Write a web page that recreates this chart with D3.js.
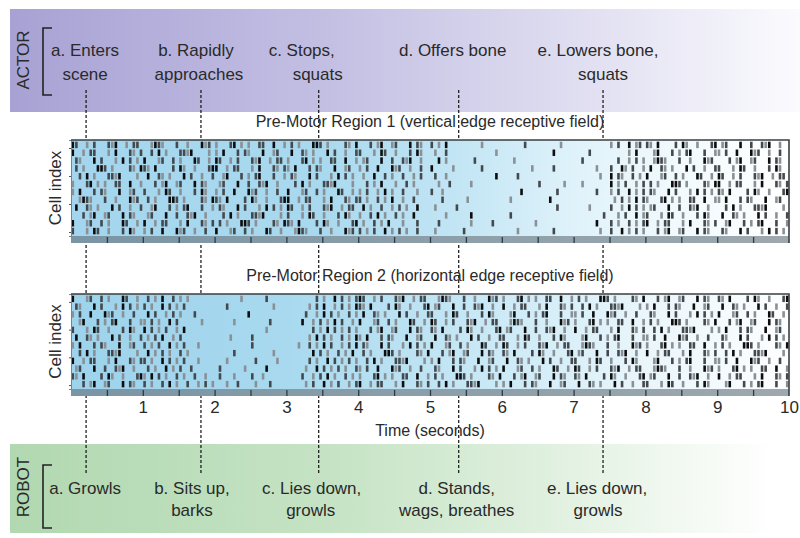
<!DOCTYPE html>
<html>
<head>
<meta charset="utf-8">
<script src="https://cdn.jsdelivr.net/npm/d3@7"></script>
<style>
  body { margin: 0; background: #fff; }
  text { font-family: "Liberation Sans", Arial, sans-serif; fill: #2a2a2a; }
</style>
</head>
<body>
<script>
// ---- data ----
var timeTicks = [1, 2, 3, 4, 5, 6, 7, 8, 9, 10];
var bandTicks = [0.5, 1, 1.5, 2, 2.5, 3, 3.5, 4, 4.5, 5, 5.5, 6, 6.5, 7, 7.5, 8, 8.5, 9, 9.5];
var eventTimes = [0.21, 1.81, 3.45, 5.40, 7.41];

var actorLine1 = ["a. Enters", "b. Rapidly", "c. Stops,", "d. Offers bone", "e. Lowers bone,"];
var actorLine2 = ["scene", "approaches", "squats", "", "squats"];
var robotLine1 = ["a. Growls", "b. Sits up,", "c. Lies down,", "d. Stands,", "e. Lies down,"];
var robotLine2 = ["", "barks", "growls", "wags, breathes", "growls"];

var panelTitles = ["Pre-Motor Region 1 (vertical edge receptive field)",
                   "Pre-Motor Region 2 (horizontal edge receptive field)"];

// spike rasters: one string per cell, one 20-char block per second
// '.' no spike, '1' faint, '2' grey, '3' black
var region1Spikes = [
  "32..1.2...213..1.22. ..1321...2..1...312. 1...23.1.1..22..3..1 .2.1...332.1....21.3 ...2.13..12...3.21.. 2.1.3.........1..... ......2.........1... ..........1.2..3.12. 21.3....2.31..1...23 .12...3..2..213..1..",
  "3..1.22...1.3...21.2 ..2.3.1...2213....1. 1.3...2.21...3..12.. .3..21.1...3.2..1..2 2...1.32..1...2.31.. .1..2.............1. ..............3..... ....2..........1.3.. ..13...2.1.23...2..1 1.2..3...312..1..2..",
  ".21...3.2...1.3.2.1. 3...12..2.1...32..1. 32..1.2...213..1.22. 1...23.1.1..22..3..1 .12...3..2..213..1.. ..3.1.......2....... ...1................ ..2.........2..1.2.1 ..1321...2..1...312. ...2.13..12...3.21..",
  ".2.1...332.1....21.3 21.3....2.31..1...23 3..1.22...1.3...21.2 1.3...2.21...3..12.. 1.2..3...312..1..2.. 3.....1.......2..... ........1.....2..... ......1...2..31.2..1 .3..21.1...3.2..1..2 2...1.32..1...2.31..",
  "..2.3.1...2213....1. .3..21.1...3.2..1..2 ..13...2.1.23...2..1 .21...3.2...1.3.2.1. .1..3..2.1..2..1.2.. .2..1.............3. ....2............... .......1..3.21..2.1. 3...12..2.1...32..1. 32..1.2...213..1.22.",
  "1...23.1.1..22..3..1 ...2.13..12...3.21.. .12...3..2..213..1.. ..2.3.1...2213....1. ..2.1.3...1..2.1.... ..1..2.....1........ ..........2......1.. ..1.......3.1.2..1.2 .2.1...332.1....21.3 3..1.22...1.3...21.2",
  "1.3...2.21...3..12.. 2...1.32..1...2.31.. 1.2..3...312..1..2.. 3...12..2.1...32..1. 1.2..1.3.1..2...1... 2..1................ .....3.........2.... ......2...1.2..3.1.2 .21...3.2...1.3.2.1. 21.3....2.31..1...23",
  "..1321...2..1...312. .2.1...332.1....21.3 21.3....2.31..1...23 3..1.22...1.3...21.2 2.1..2.1.3..1..2.... ...2......1......... ..1..........3...... ...........1.2.1.3.2 1...23.1.1..22..3..1 1.3...2.21...3..12..",
  ".3..21.1...3.2..1..2 ..13...2.1.23...2..1 .21...3.2...1.3.2.1. 32..1.2...213..1.22. .3.1..2..1.2.1..3... .1.....2............ ...............2.... ....1.....2..1.3.2.1 .12...3..2..213..1.. ..2.3.1...2213....1.",
  "...2.13..12...3.21.. .12...3..2..213..1.. ..2.3.1...2213....1. 2...1.32..1...2.31.. 1..2.3.1..2.1..3.... ....1......3........ ..2................. ........2...1.2..3.1 2...1.32..1...2.31.. .3..21.1...3.2..1..2",
  "3...12..2.1...32..1. 3..1.22...1.3...21.2 .2.1...332.1....21.3 21.3....2.31..1...23 .1..2.1.3...1...2... ..2........1.....2.. .........1.......... ......3...2.1..2.1.2 3..1.22...1.3...21.2 ..13...2.1.23...2..1",
  "2...1.32..1...2.31.. 1.2..3...312..1..2.. 3...12..2.1...32..1. ..1321...2..1...312. 2.1.2..3.1.2.1..2... .1.......2.......... ....1.........2..... .......1..2..3.1.2.1 ...2.13..12...3.21.. .21...3.2...1.3.2.1."
];

var region2Spikes = [
  "3...12..2.1...32..1. .2.1.3..2.1.1....... .......1......2..... ........2.1..3.2.1.2 32..1.2...213..1.22. ..1321...2..1...312. 1...23.1.1..22..3..1 .2.1...332.1....21.3 ...2.13..12...3.21.. 21.3....2.31..1...23",
  ".21...3.2...1.3.2.1. 2.1..3.2.1.2........ ...2............1... ......1.2.3..1.2.1.3 21.3....2.31..1...23 .12...3..2..213..1.. 3..1.22...1.3...21.2 ..2.3.1...2213....1. 1.3...2.21...3..12.. .3..21.1...3.2..1..2",
  "1.2..3...312..1..2.. .3.2..1.2.1...2..... .........3.......... .....2..1.3.2.1..2.1 .3..21.1...3.2..1..2 2...1.32..1...2.31.. ..13...2.1.23...2..1 1.2..3...312..1..2.. .21...3.2...1.3.2.1. 3...12..2.1...32..1.",
  "..13...2.1.23...2..1 1.2.1..3.2......1... .....1.........2.... ....3..1.2.1.3.2..1. 3...12..2.1...32..1. 32..1.2...213..1.22. ..1321...2..1...312. 1...23.1.1..22..3..1 .2.1...332.1....21.3 ...2.13..12...3.21..",
  "2...1.32..1...2.31.. 3.2.1.2..1.3....... ..............1..... .......2.1.3.2.1.2.1 ...2.13..12...3.21.. 21.3....2.31..1...23 .12...3..2..213..1.. 3..1.22...1.3...21.2 ..2.3.1...2213....1. 1.3...2.21...3..12..",
  ".3..21.1...3.2..1..2 .1.2.3..1.2........ ....1.....2......... ......1.3.2.1..2.1.3 1.3...2.21...3..12.. .3..21.1...3.2..1..2 2...1.32..1...2.31.. ..13...2.1.23...2..1 1.2..3...312..1..2.. .21...3.2...1.3.2.1.",
  "1.3...2.21...3..12.. 2.1.2..3.1.2...1.... ..........2......... ...1..2.1.3.2..1.2.3 .21...3.2...1.3.2.1. 3...12..2.1...32..1. 32..1.2...213..1.22. ..1321...2..1...312. 1...23.1.1..22..3..1 .2.1...332.1....21.3",
  "..2.3.1...2213....1. .3.1.2.1..2.1....... .....2..........1... .......3.2.1..2.1.3. .2.1...332.1....21.3 ...2.13..12...3.21.. 21.3....2.31..1...23 .12...3..2..213..1.. 3..1.22...1.3...21.2 ..2.3.1...2213....1.",
  "3..1.22...1.3...21.2 2.1..3.2.1.2...1.... ...1.......2.....1.. ......2.1..3.2.1.2.1 ..2.3.1...2213....1. 1.3...2.21...3..12.. .3..21.1...3.2..1..2 2...1.32..1...2.31.. ..13...2.1.23...2..1 1.2..3...312..1..2..",
  ".12...3..2..213..1.. .2.1..3.1.2..2...... .2......1.....3..... .....1..3.2.1.2.1..2 1.2..3...312..1..2.. .21...3.2...1.3.2.1. 3...12..2.1...32..1. 32..1.2...213..1.22. ..1321...2..1...312. 1...23.1.1..22..3..1",
  "21.3....2.31..1...23 1.3.2.1..2.1..2..1.. .2...1....2..1...... ....2..1.2.3.1..2.1. 1...23.1.1..22..3..1 .2.1...332.1....21.3 ...2.13..12...3.21.. 21.3....2.31..1...23 .12...3..2..213..1.. 3..1.22...1.3...21.2",
  "...2.13..12...3.21.. 2.1..2.3.1..2..1.2.1 ...1..2....1...2.... .....1.2..3.1.2..1.2 3..1.22...1.3...21.2 ..2.3.1...2213....1. 1.3...2.21...3..12.. .3..21.1...3.2..1..2 2...1.32..1...2.31.. ..13...2.1.23...2..1"
];

// ---- layout ----
var width = 800, height = 538;
var x = d3.scaleLinear().domain([0, 10]).range([71, 789]);
var spikeColor = { "1": "#8a9196", "2": "#44494d", "3": "#0d0d0d" };

var svg = d3.select("body").append("svg")
  .attr("width", width)
  .attr("height", height);

var defs = svg.append("defs");
function grad(id, stops) {
  var g = defs.append("linearGradient").attr("id", id)
    .attr("x1", "0%").attr("x2", "100%").attr("y1", "0%").attr("y2", "0%");
  stops.forEach(function(s) {
    g.append("stop").attr("offset", s[0]).attr("stop-color", s[1]);
  });
}
grad("actorGrad", [[0, "#a8a2d4"], [0.4, "#c3bfe3"], [0.7, "#dedcf0"], [1, "#fbfbfe"]]);
grad("robotGrad", [[0, "#b1d8b0"], [0.4, "#c5e3c4"], [0.7, "#e2f1e1"], [0.97, "#ffffff"]]);
grad("panelGrad1", [[0, "#a3d6ee"], [0.35, "#a9d9ef"], [0.55, "#c4e6f5"], [0.7, "#dff2fa"], [0.85, "#f2fafd"], [1, "#ffffff"]]);
grad("panelGrad2", [[0, "#9dd3ec"], [0.3, "#a8d9ef"], [0.5, "#bfe4f4"], [0.65, "#d3edf8"], [0.8, "#eaf6fb"], [1, "#fdfeff"]]);
grad("bandGrad", [[0, "#7a95a4"], [1, "#9ea8ae"]]);

// behaviour bands
svg.append("rect").attr("x", 10).attr("y", 9).attr("width", 790).attr("height", 103)
  .attr("fill", "url(#actorGrad)");
svg.append("rect").attr("x", 10).attr("y", 444).attr("width", 790).attr("height", 89)
  .attr("fill", "url(#robotGrad)");

// dashed event lines (behind the rasters)
svg.append("g").selectAll("line")
  .data(eventTimes)
  .enter().append("line")
  .attr("x1", function(d) { return x(d); })
  .attr("x2", function(d) { return x(d); })
  .attr("y1", 90)
  .attr("y2", 473)
  .attr("stroke", "#111")
  .attr("stroke-width", 1.2)
  .attr("stroke-dasharray", "3,2");

function sideLabel(txt, cy, top, bottom) {
  svg.append("text")
    .attr("transform", "translate(29," + cy + ") rotate(-90)")
    .attr("text-anchor", "middle")
    .style("font-size", "17px")
    .text(txt);
  svg.append("path")
    .attr("d", "M52," + top + "H43V" + bottom + "H52")
    .attr("fill", "none")
    .attr("stroke", "#222")
    .attr("stroke-width", 1.6);
}
sideLabel("ACTOR", 60, 28, 95);
sideLabel("ROBOT", 487, 465, 528);

// event captions
var actorDx1 = [-1, -5, -17, -6, -5], actorDx2 = [-1, -2, -1, -6, 0];
var robotDx1 = [-1, -9, -7, -2, -6], robotDx2 = [-1, -9, -8, -2, -5];
function captions(lines, dx, yBase) {
  svg.append("g").selectAll("text")
    .data(lines)
    .enter().append("text")
    .attr("x", function(d, i) { return x(eventTimes[i]) + dx[i]; })
    .attr("y", yBase)
    .attr("text-anchor", "middle")
    .style("font-size", "17px")
    .text(function(d) { return d; });
}
captions(actorLine1, actorDx1, 56);
captions(actorLine2, actorDx2, 80);
captions(robotLine1, robotDx1, 494);
captions(robotLine2, robotDx2, 516);

// raster panels
var panels = [
  { title: panelTitles[0], top: 140, bottom: 243, spikes: region1Spikes, fill: "url(#panelGrad1)" },
  { title: panelTitles[1], top: 294, bottom: 396, spikes: region2Spikes, fill: "url(#panelGrad2)" }
];
var bandH = 7;

panels.forEach(function(p) {
  var g = svg.append("g");
  var rasterBottom = p.bottom - bandH;

  svg.append("text")
    .attr("x", 430)
    .attr("y", p.top - 13)
    .attr("text-anchor", "middle")
    .style("font-size", "16px")
    .text(p.title);

  g.append("rect")
    .attr("x", x(0)).attr("y", p.top)
    .attr("width", x(10) - x(0)).attr("height", p.bottom - p.top)
    .attr("fill", p.fill);

  var y = d3.scaleBand()
    .domain(d3.range(p.spikes.length))
    .range([p.top + 1, rasterBottom - 1]);

  // flatten rows into spike events
  var events = [];
  p.spikes.forEach(function(row, r) {
    row.split(" ").forEach(function(seg, s) {
      for (var j = 0; j < seg.length; j++) {
        var c = seg.charAt(j);
        if (c !== ".") events.push({ row: r, t: s + (j + 0.5) / 20, level: c });
      }
    });
  });

  g.append("g").selectAll("rect")
    .data(events)
    .enter().append("rect")
    .attr("x", function(d) { return x(d.t) - 1.3; })
    .attr("y", function(d) { return y(d.row) + 0.7; })
    .attr("width", 2.6)
    .attr("height", y.bandwidth() - 1.4)
    .attr("fill", function(d) { return spikeColor[d.level]; });

  // grey time band with half-second marks
  g.append("rect")
    .attr("x", x(0)).attr("y", rasterBottom)
    .attr("width", x(10) - x(0)).attr("height", bandH)
    .attr("fill", "url(#bandGrad)");
  g.append("g")
    .attr("transform", "translate(0," + p.bottom + ")")
    .call(d3.axisBottom(x).tickValues(bandTicks).tickSize(-bandH + 1).tickFormat(""))
    .call(function(a) {
      a.select(".domain").remove();
      a.selectAll("line").attr("stroke", "#2b3b45").attr("stroke-width", 1.3);
    });

  // cell index ticks on the left edge
  var cell = d3.scaleLinear().domain([0, 12]).range([rasterBottom, p.top]);
  g.append("g")
    .attr("transform", "translate(" + x(0) + ",0)")
    .call(d3.axisLeft(cell).tickValues([0.5, 4, 7.5, 11]).tickSize(2).tickFormat(""))
    .call(function(a) {
      a.select(".domain").attr("stroke", "#6f8793").attr("stroke-width", 1);
      a.selectAll("line").attr("stroke", "#555");
    });

  // frame: dark top and right edges
  g.append("path")
    .attr("d", "M" + x(0) + "," + p.top + "H" + x(10) + "V" + p.bottom)
    .attr("fill", "none")
    .attr("stroke", "#3a3f42")
    .attr("stroke-width", 1.6);

  svg.append("text")
    .attr("transform", "translate(61," + ((p.top + rasterBottom) / 2) + ") rotate(-90)")
    .attr("text-anchor", "middle")
    .style("font-size", "17px")
    .text("Cell index");
});

// time axis
svg.append("g")
  .attr("transform", "translate(0,396)")
  .call(d3.axisBottom(x).tickValues(timeTicks).tickSize(0).tickPadding(5))
  .call(function(a) {
    a.select(".domain").remove();
    a.selectAll("text")
      .style("font-size", "17px")
      .style("font-family", "Liberation Sans, Arial, sans-serif")
      .attr("fill", "#2a2a2a");
  });

svg.append("text")
  .attr("x", 430)
  .attr("y", 436)
  .attr("text-anchor", "middle")
  .style("font-size", "16px")
  .text("Time (seconds)");
</script>
</body>
</html>
